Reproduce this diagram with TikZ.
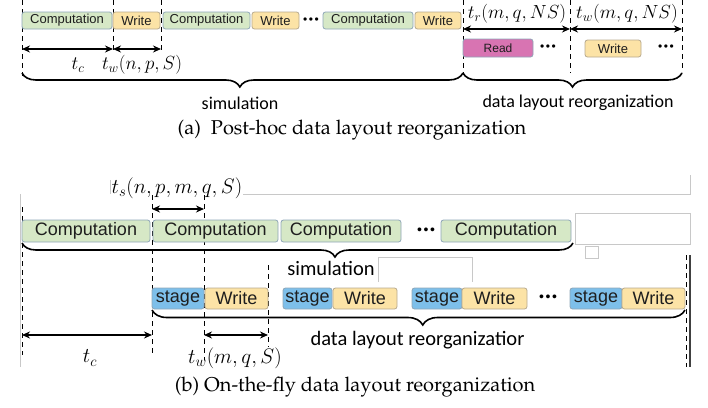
\documentclass[tikz,border=0pt]{standalone}
\usepackage{fix-cm}
\usepackage{fontspec}
\usetikzlibrary{arrows.meta,decorations.pathreplacing}
\newfontfamily\boxfont{Liberation Sans}
\newfontfamily\lblfont{Carlito}
\newcommand\capfont{\fontencoding{OT1}\fontfamily{ppl}\selectfont}
\definecolor{compc}{HTML}{D6E8C6}
\definecolor{writec}{HTML}{FCE3A6}
\definecolor{readc}{HTML}{D874B2}
\definecolor{stagec}{HTML}{7DBFEA}
\definecolor{bordc}{HTML}{8FA6B8}
\definecolor{wbordc}{HTML}{B7A98E}
\definecolor{txtc}{HTML}{1E1E1E}
\definecolor{ghost}{HTML}{C8C8C8}
\tikzset{
  tbox/.style={rounded corners=2.5pt, line width=0.8pt, inner sep=0pt, text=txtc},
  compA/.style={tbox, draw=bordc, fill=compc, minimum height=17pt, font=\boxfont\fontsize{13}{13}\selectfont},
  writeA/.style={tbox, draw=wbordc, fill=writec, minimum height=17pt, font=\boxfont\fontsize{13}{13}\selectfont},
  readA/.style={tbox, draw=bordc, fill=readc, minimum height=18pt, font=\boxfont\fontsize{12}{12}\selectfont},
  compB/.style={tbox, draw=bordc, fill=compc, minimum height=22pt, font=\boxfont\fontsize{18}{18}\selectfont},
  writeB/.style={tbox, draw=wbordc, fill=writec, minimum height=21pt, font=\boxfont\fontsize{18}{18}\selectfont},
  stageB/.style={tbox, draw=bordc, fill=stagec, minimum height=21pt, font=\boxfont\fontsize{18}{18}\selectfont},
  dotsnode/.style={inner sep=0pt, font=\boxfont\fontsize{12}{12}\selectfont},
  dotsnodeB/.style={inner sep=0pt, font=\boxfont\fontsize{14}{14}\selectfont},
  mathA/.style={inner sep=0pt, font=\fontsize{19}{19}\selectfont},
  mathB/.style={inner sep=0pt, font=\fontsize{21}{21}\selectfont},
  lblA/.style={inner sep=0pt, font=\lblfont\fontsize{18}{18}\selectfont},
  lblB/.style={inner sep=0pt, font=\lblfont\fontsize{20.5}{20.5}\selectfont},
  capnode/.style={inner sep=0pt, font=\capfont\fontsize{20}{20}\selectfont},
  vdash/.style={dashed, dash pattern=on 5pt off 4pt, line width=1pt},
  tarrow/.style={{Stealth[length=8pt,width=7pt]}-{Stealth[length=8pt,width=7pt]}, line width=1.6pt},
  bracedec/.style={decorate, decoration={brace, mirror, amplitude=#1, aspect=0.5}, line width=1.6pt},
  ghostline/.style={draw=ghost, line width=0.6pt}
}
\newcommand\tridots{\textbullet\kern1.6pt\textbullet\kern1.6pt\textbullet}
\begin{document}
\begin{tikzpicture}[x=1pt,y=-1pt]
\useasboundingbox (0,0) rectangle (708,407);
% ================= (a) =================
\foreach \n/\x/\ya/\yb in {d1/22/0/76, d2/113/0/53, d3/161/0/53, d4/463/0/75, d5/570/0/73, d6/682/0/72}{
  \coordinate (\n t) at (\x,\ya);
  \coordinate (\n b) at (\x,\yb);
}
\foreach \n in {d1,d2,d3,d4,d5,d6}{\draw[vdash] (\n t) -- (\n b);}
\node[compA, minimum width=90pt] (ac1) at (67,20.5) {Computation};
\node[writeA, minimum width=47pt] (aw1) at (136.5,20.5) {Write};
\node[compA, minimum width=87pt] (ac2) at (206.5,20.5) {Computation};
\node[writeA, minimum width=47pt] (aw2) at (275.5,20.5) {Write};
\node[dotsnode] (adots1) at (311,20.5) {\tridots};
\node[compA, minimum width=90pt] (ac3) at (368,20.5) {Computation};
\node[writeA, minimum width=46pt] (aw3) at (438,20.5) {Write};
\node[readA, minimum width=70pt] (ar) at (498,48) {Read};
\node[dotsnode] (adots2) at (548,48) {\tridots};
\node[writeA, minimum width=56pt] (aw4) at (613,48.5) {Write};
\node[dotsnode] (adots3) at (666,48) {\tridots};
% arrows
\coordinate (aa1) at (22,49); \coordinate (aa2) at (113,49); \coordinate (aa3) at (161,49);
\draw[tarrow] (aa1) -- (aa2);
\draw[tarrow] (aa2) -- (aa3);
\coordinate (ab1) at (463,29); \coordinate (ab2) at (570,29); \coordinate (ab3) at (682,29);
\draw[tarrow] (ab1) -- (ab2);
\draw[tarrow] (ab2) -- (ab3);
\node[mathA] (atc) at (78,65) {$t_c$};
\node[mathA] (atw) at (142,65) {$t_w(n,p,S)$};
\node[mathA] (atr) at (517,14) {$t_r(m,q,NS)$};
\node[mathA] (atw2) at (627,14) {$t_w(m,q,NS)$};
% braces
\coordinate (abr1) at (22,73); \coordinate (abr2) at (463,73); \coordinate (abr3) at (682,73);
\draw[bracedec=14pt, decoration={aspect=0.494}] (abr1) -- (abr2);
\draw[bracedec=14pt] (abr2) -- (abr3);
\node[lblA] (asim) at (240,103) {simulation};
\node[lblA] (adl) at (578,103) {data layout reorganization};
\node[capnode] (capa) at (352,130) {(a)\ \ Post-hoc data layout reorganization};
% ================= (b) =================
% ghost outlines
\draw[ghostline] (110,180) -- (110,194);
\draw[ghostline] (243,194) -- (690,194) -- (690,175);
\draw[ghostline] (20,194) -- (20,367);
\draw[ghostline] (575,213) rectangle (690,244);
\draw[ghostline] (585,246) rectangle (598,258);
\draw[ghostline] (378,282) -- (378,257) -- (472,257) -- (472,282);
\foreach \n/\x/\ya/\yb in {e1/22/207/355, e2/152/195/355, e3/204/195/360, e4/268/265/347, e5/686/255/367}{
  \coordinate (\n t) at (\x,\ya);
  \coordinate (\n b) at (\x,\yb);
}
\foreach \n in {e1,e2,e3,e4,e5}{\draw[vdash] (\n t) -- (\n b);}
\coordinate (sol1) at (690,255); \coordinate (sol2) at (690,367);
\draw[line width=1.4pt, draw=black!75] (sol1) -- (sol2);
\node[mathB] (bts) at (177,188) {$t_s(n,p,m,q,S)$};
\coordinate (bs1) at (152,209); \coordinate (bs2) at (204,209);
\draw[tarrow] (bs1) -- (bs2);
\node[compB, minimum width=128pt] (bc1) at (86,231) {Computation};
\node[compB, minimum width=125pt] (bc2) at (215.5,231) {Computation};
\node[compB, minimum width=120pt] (bc3) at (341,231) {Computation};
\node[dotsnodeB] (bdots1) at (426,231) {\tridots};
\node[compB, minimum width=130pt] (bc4) at (506,231) {Computation};
\coordinate (bbr1) at (22,243); \coordinate (bbr2) at (573,243);
\draw[bracedec=14pt, decoration={aspect=0.568}] (bbr1) -- (bbr2);
\node[lblB] (bsim) at (331,268) {simulation};
\node[stageB, minimum width=52pt] (bs1n) at (178,298.5) {stage};
\node[writeB, minimum width=63pt] (bw1) at (236.5,298.5) {Write};
\node[stageB, minimum width=49pt] (bs2n) at (307.5,298.5) {stage};
\node[writeB, minimum width=64pt] (bw2) at (365,298.5) {Write};
\node[stageB, minimum width=50pt] (bs3n) at (437,298.5) {stage};
\node[writeB, minimum width=65pt] (bw3) at (494.5,298.5) {Write};
\node[dotsnodeB] (bdots2) at (548,298.5) {\tridots};
\node[stageB, minimum width=52pt] (bs4n) at (596,298.5) {stage};
\node[writeB, minimum width=63pt] (bw4) at (653.5,298.5) {Write};
\coordinate (bbr3) at (152,310); \coordinate (bbr4) at (685,310);
\draw[bracedec=15pt, decoration={aspect=0.508}] (bbr3) -- (bbr4);
\node[lblB] (bdl) at (417.5,340) {data layout reorganizatior};
\coordinate (bt1) at (22,335); \coordinate (bt2) at (152,335);
\coordinate (bt3) at (204,335); \coordinate (bt4) at (268,335);
\draw[tarrow] (bt1) -- (bt2);
\draw[tarrow] (bt3) -- (bt4);
\node[mathB] (btc) at (90,358) {$t_c$};
\node[mathB] (btw) at (235,358) {$t_w(m,q,S)$};
\node[capnode] (capb) at (355,387) {(b)\ On-the-fly data layout reorganization};
\end{tikzpicture}
\end{document}
